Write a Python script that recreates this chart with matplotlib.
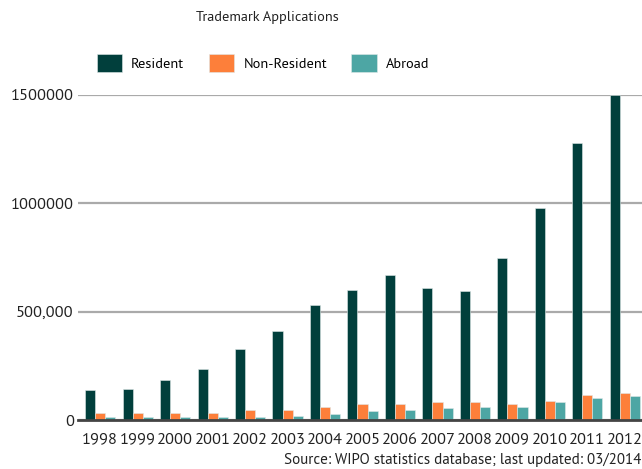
import matplotlib
matplotlib.use("Agg")
import matplotlib.pyplot as plt
import numpy as np

years = ["1998", "1999", "2000", "2001", "2002", "2003", "2004", "2005",
         "2006", "2007", "2008", "2009", "2010", "2011", "2012"]
resident = [138000, 145000, 186000, 235000, 326000, 411000, 530000, 600000,
            670000, 608000, 594000, 746000, 978000, 1280000, 1500000]
non_resident = [32000, 32000, 32000, 32000, 46000, 46000, 61000, 75000,
                75000, 83000, 83000, 75000, 89000, 117000, 123000]
abroad = [12000, 12000, 12000, 12000, 12000, 19000, 26000, 40000,
          48000, 54000, 61000, 60000, 82000, 103000, 111000]
series_names = ["Resident", "Non-Resident", "Abroad"]
colors = ["#013f3c", "#fd7f3a", "#4da6a4"]
ytick_vals = [0, 500000, 1000000, 1500000]
ytick_labels = ["0", "500,000", "1000000", "1500000"]

plt.rcParams['font.family'] = ['PT Sans', 'DejaVu Sans']
TICK_FS = 11.8
FS = 10.3

fig = plt.figure(figsize=(6.42, 4.69), dpi=100)
ax = fig.add_axes([78/642, 49/469, 1 - 78/642, 325/469])

x = np.arange(len(years))
w = 0.27
for k, (vals, name, c) in enumerate(zip([resident, non_resident, abroad], series_names, colors)):
    ax.bar(x + (k - 1) * w, vals, width=w, color=c, label=name,
           edgecolor="#dfe9e8", linewidth=0.4, zorder=3)

ax.set_xlim(-0.595, 14.46)
ax.set_ylim(0, 1500000)
ax.set_yticks(ytick_vals)
ax.set_yticklabels(ytick_labels, fontsize=TICK_FS, color="#222222")
ax.set_xticks(x)
ax.set_xticklabels(years, fontsize=TICK_FS, color="#222222")
ax.tick_params(axis="y", length=0, pad=3)
ax.tick_params(axis="x", length=0, pad=9)
ax.yaxis.grid(True, color="#aaaaaa", linewidth=1.6, zorder=0)
ax.set_axisbelow(True)
for s in ["top", "right", "left"]:
    ax.spines[s].set_visible(False)
ax.spines["bottom"].set_color("#444444")
ax.spines["bottom"].set_linewidth(2)
ax.spines["bottom"].set_zorder(4)

fig.text(267/642, 1 - 18/469, "Trademark Applications", ha="center", va="center",
         fontsize=10.3, color="#222222")
fig.legend(loc="center", bbox_to_anchor=(263/642, 1 - 63/469), ncol=3,
           frameon=False, fontsize=FS, handlelength=1.8, handleheight=1.6,
           handletextpad=0.62, columnspacing=1.7)
fig.text(641/642, 1 - 460/469, "Source: WIPO statistics database; last updated: 03/2014",
         ha="right", va="center", fontsize=10.8, color="#222222")

fig.savefig("out.png", dpi=100)
